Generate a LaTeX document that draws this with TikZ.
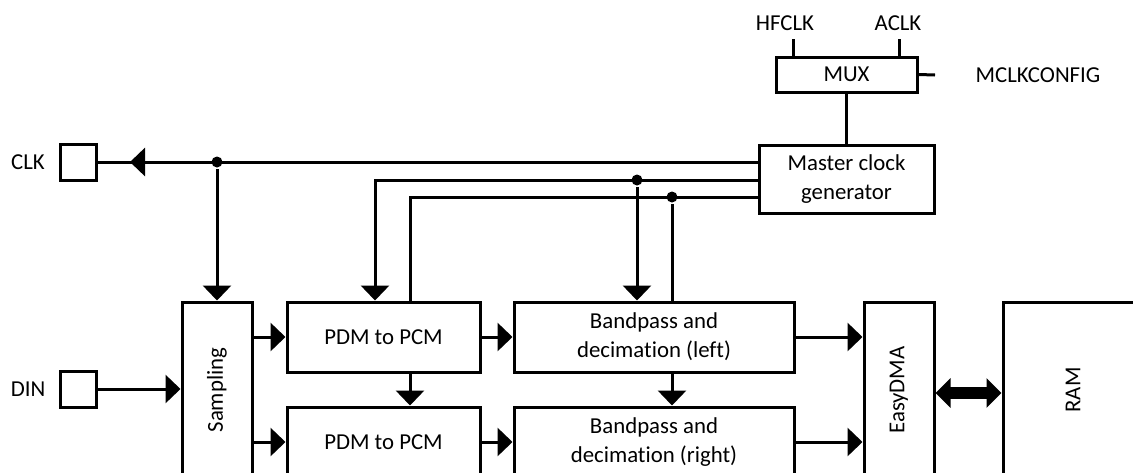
\documentclass[tikz,border=0pt]{standalone}
\usepackage{fontspec}
\setmainfont{Carlito}[Ligatures=NoCommon]
\usetikzlibrary{calc}
\usetikzlibrary{arrows.meta}

\begin{document}
\begin{tikzpicture}[x=0.5pt,y=-0.5pt,line width=1.5pt,
  font=\fontsize{11.4}{14.5}\selectfont,
  blk/.style={draw,inner sep=0pt,align=center},
  pin/.style={draw,inner sep=0pt,minimum width=18pt,minimum height=18pt},
  tip/.style={-{Triangle[length=7.5pt,width=14pt]}},
  dot/.style={circle,fill,inner sep=0pt,minimum size=5.5pt}]
\useasboundingbox (0,0) rectangle (1133,472);
\clip (0,0) rectangle (1133,472);

% ---------- clock source ----------
\node[blk,minimum width=70.5pt,minimum height=17.5pt] (mux) at (846.5,74.5) {MUX};
\node (hfclk) at (785,23) {HFCLK};
\node (aclk) at (898,23) {ACLK};
\node (mclkcfg) at (1038,75) {MCLKCONFIG};
\coordinate (hfin) at (793,39);
\coordinate (ain) at (899,39);
\coordinate (cfgin) at (935,75);
\draw (hfin) -- (hfin |- mux.north);
\draw (ain) -- (ain |- mux.north);
\draw (mux.east) -- (cfgin);
\node[blk,minimum width=87.5pt,minimum height=34pt] (mcg) at (846.5,179) {Master clock\\generator};
\draw (mux.south) -- (mcg.north);

% ---------- pins ----------
\node[pin] (clkpin) at (78,162) {};
\node (clklbl) at (28,162) {CLK};
\node[pin] (dinpin) at (78,389) {};
\node (dinlbl) at (28,389) {DIN};

% ---------- blocks ----------
\node[blk,minimum width=35pt,minimum height=88pt] (samp) at (217,390) {\rotatebox{90}{Sampling}};
\node[blk,minimum width=96.5pt,minimum height=35pt] (pdma) at (383.5,337) {PDM to PCM};
\node[blk,minimum width=96.5pt,minimum height=35pt] (pdmb) at (383.5,442) {PDM to PCM};
\node[blk,minimum width=140pt,minimum height=35pt] (bpa) at (654,337) {Bandpass and\\decimation (left)};
\node[blk,minimum width=140pt,minimum height=35pt] (bpb) at (654,442) {Bandpass and\\decimation (right)};
\node[blk,minimum width=35pt,minimum height=88pt] (dma) at (899,390) {\rotatebox{90}{EasyDMA}};
\node[blk,minimum width=70pt,minimum height=88pt] (ram) at (1073,390) {\rotatebox{90}{RAM}};

% ---------- clock lines ----------
\coordinate (clktip) at (130,162);
\node[dot] (jclk) at (217,162) {};
\draw (mcg.west |- clkpin) -- (clkpin.east);
\draw[tip] (jclk) -- (clktip);
\draw[tip] (jclk) -- (samp.north);

\coordinate (ckb) at (375,180);
\coordinate (ckc) at (410,197);
\node[dot] (jbpa) at (637,180) {};
\node[dot] (jbpb) at (672,197) {};
\draw[tip] (mcg.west |- ckb) -- (ckb) -- (ckb |- pdma.north);
\draw (mcg.west |- ckc) -- (ckc) -- (ckc |- pdma.north);
\draw[tip] (jbpa) -- (jbpa |- bpa.north);
\draw (jbpb) -- (jbpb |- bpa.north);

% ---------- data path ----------
\draw[tip] (dinpin.east) -- (dinpin.east -| samp.west);
\draw[tip] (samp.east |- pdma) -- (pdma.west);
\draw[tip] (samp.east |- pdmb) -- (pdmb.west);
\draw[tip] (pdma.south -| ckc) -- (pdmb.north -| ckc);
\draw[tip] (pdma.east) -- (bpa.west);
\draw[tip] (pdmb.east) -- (bpb.west);
\draw[tip] (bpa.south -| jbpb) -- (bpb.north -| jbpb);
\draw[tip] (bpa.east) -- (bpa.east -| dma.west);
\draw[tip] (bpb.east) -- (bpb.east -| dma.west);
\draw[line width=6pt,{Triangle[length=7.5pt,width=14.5pt]}-{Triangle[length=7.5pt,width=14.5pt]}] (dma.east |- 0,393) -- (ram.west |- 0,393);

\end{tikzpicture}
\end{document}
